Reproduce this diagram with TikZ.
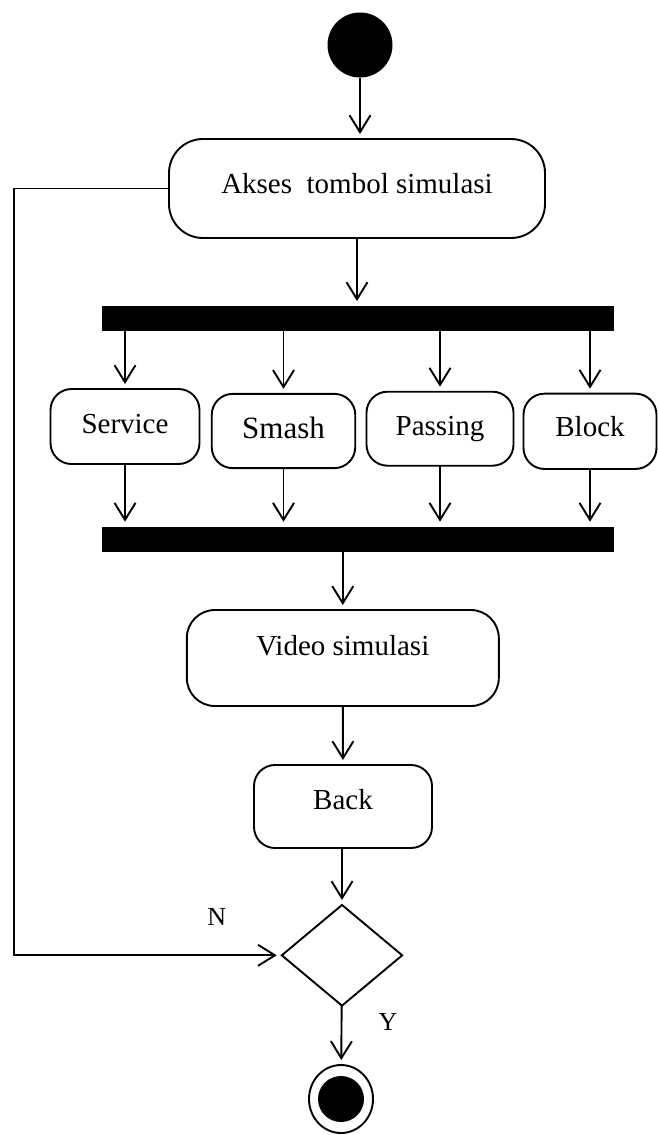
\documentclass[tikz,border=0pt]{standalone}
\usepackage{fontspec}
\setmainfont{Liberation Serif}
\usetikzlibrary{arrows.meta,shapes.geometric}
\begin{document}
\begin{tikzpicture}[x=1pt,y=-1pt,
  every node/.style={inner sep=0pt, outer sep=0pt},
  flow/.style={line width=1.9pt, -{Straight Barb[length=17pt,width=21pt]}, shorten >=5pt},
  act/.style={draw, line width=1.9pt, rounded corners=#1,
    font=\fontsize{29}{34}\selectfont, text height=20pt},
  act/.default=21pt,
  bar/.style={fill=black, minimum height=25pt, minimum width=512pt},
  lbl/.style={font=\fontsize{26}{30}\selectfont},
]
\useasboundingbox (0,0) rectangle (658,1135);

% initial node
\node[circle, fill=black, minimum size=65pt] (start) at (360,45) {};

% first activity
\node[act=34pt, minimum width=376pt, minimum height=99pt, text depth=11pt]
  (akses) at (357,188.5) {Akses\ \ tombol simulasi};

% fork and join bars
\node[bar] (bar1) at (358.2,318.5) {};
\node[bar] (bar2) at (358.2,539.2) {};

% parallel activities
\node[act, minimum width=149pt, minimum height=75pt, text depth=6.4pt]
  (svc) at (125,426.5) {Service};
\node[act, minimum width=143.5pt, minimum height=74.3pt, text depth=5pt,
  font=\fontsize{31}{36}\selectfont]
  (smash) at (283.5,431) {Smash};
\node[act, minimum width=147pt, minimum height=74pt, text depth=7.4pt]
  (passing) at (440,428.7) {Passing};
\node[act, minimum width=133pt, minimum height=75.3pt, text depth=9pt]
  (block) at (590,431.3) {Block};

% result and return
\node[act=28pt, minimum width=312pt, minimum height=96pt, text depth=26pt]
  (video) at (342.8,658) {Video simulasi};
\node[act, minimum width=178pt, minimum height=83pt, text depth=15pt]
  (back) at (343,806.5) {Back};

% decision
\node[diamond, draw, line width=1.9pt, minimum width=120.4pt, minimum height=100.7pt]
  (dec) at (342,955.3) {};

% final node
\node[ellipse, draw, line width=1.9pt, minimum width=64pt, minimum height=68pt]
  (final) at (341,1099) {};
\node[circle, fill=black, minimum size=46pt] (finaldot) at (final.center) {};

% labels
\node[lbl] (nlab) at (216.7,916.7) {N};
\node[lbl] (ylab) at (388,1021.7) {Y};

% connectors
\draw[flow] (start) -- (start |- akses.north);
\draw[flow] (akses) -- (akses |- bar1.north);
\foreach \n in {svc,smash,passing,block}{
  \draw[flow] (bar1.south -| \n) -- (\n);
  \draw[flow] (\n) -- (\n |- bar2.north);
}
\draw[flow] (bar2.south -| video) -- (video);
\draw[flow] (video) -- (back);
\draw[flow] (back.south -| dec) -- (dec);
\draw[flow] (dec) -- (final);

% loop back to the decision
\coordinate (loopx) at (14,0);
\draw[flow] (akses.west) -- (akses.west -| loopx) -- (loopx |- dec.west) -- (dec.west);
\end{tikzpicture}
\end{document}
